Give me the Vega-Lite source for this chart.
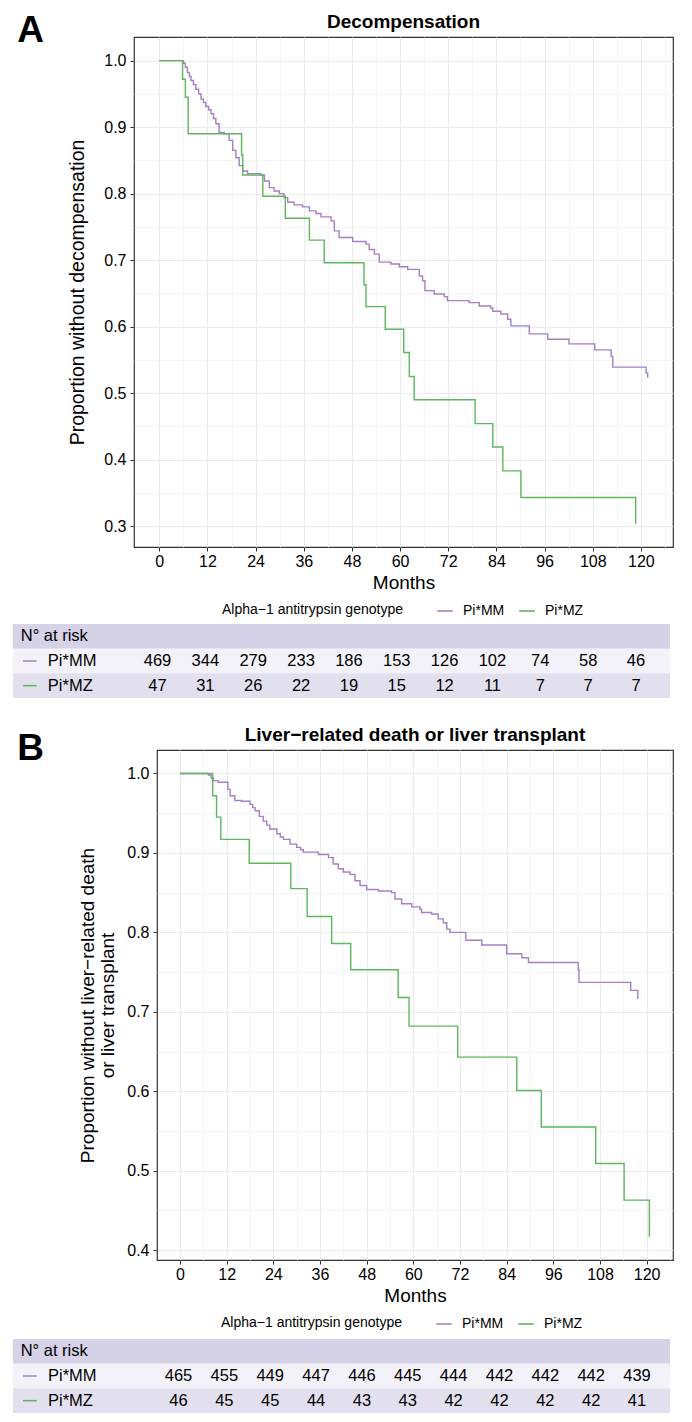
{
  "$schema": "https://vega.github.io/schema/vega-lite/v6.json",
  "padding": {"left": 13, "top": 11, "right": 5, "bottom": 5},
  "background": "white",
  "config": {
    "font": "Liberation Sans",
    "view": {"stroke": null},
    "axis": {"labelColor": "#000000", "titleColor": "#000000", "titleFontWeight": "normal", "domain": false},
    "legend": {"labelColor": "#000000", "titleColor": "#000000", "titleLimit": 400, "labelLimit": 200},
    "title": {"color": "#000000"}
  },
  "datasets": {
    "kmA": [
      {"g": "Pi*MM", "m": 0, "s": 1.0}, {"g": "Pi*MM", "m": 6.0, "s": 0.996}, {"g": "Pi*MM", "m": 6.5, "s": 0.990}, {"g": "Pi*MM", "m": 7.0, "s": 0.982}, {"g": "Pi*MM", "m": 7.5, "s": 0.976}, {"g": "Pi*MM", "m": 7.9, "s": 0.970}, {"g": "Pi*MM", "m": 8.5, "s": 0.964}, {"g": "Pi*MM", "m": 9.1, "s": 0.957}, {"g": "Pi*MM", "m": 9.8, "s": 0.950}, {"g": "Pi*MM", "m": 10.4, "s": 0.942}, {"g": "Pi*MM", "m": 11.0, "s": 0.937}, {"g": "Pi*MM", "m": 11.6, "s": 0.931}, {"g": "Pi*MM", "m": 12.3, "s": 0.926}, {"g": "Pi*MM", "m": 12.9, "s": 0.920}, {"g": "Pi*MM", "m": 13.5, "s": 0.913}, {"g": "Pi*MM", "m": 14.1, "s": 0.905}, {"g": "Pi*MM", "m": 14.9, "s": 0.892}, {"g": "Pi*MM", "m": 16.2, "s": 0.890}, {"g": "Pi*MM", "m": 17.4, "s": 0.880}, {"g": "Pi*MM", "m": 18.3, "s": 0.865}, {"g": "Pi*MM", "m": 19.1, "s": 0.854}, {"g": "Pi*MM", "m": 19.9, "s": 0.842}, {"g": "Pi*MM", "m": 20.8, "s": 0.834}, {"g": "Pi*MM", "m": 22.0, "s": 0.830}, {"g": "Pi*MM", "m": 25.3, "s": 0.828}, {"g": "Pi*MM", "m": 26.2, "s": 0.819}, {"g": "Pi*MM", "m": 27.4, "s": 0.809}, {"g": "Pi*MM", "m": 28.6, "s": 0.804}, {"g": "Pi*MM", "m": 29.9, "s": 0.800}, {"g": "Pi*MM", "m": 31.1, "s": 0.794}, {"g": "Pi*MM", "m": 32.0, "s": 0.787}, {"g": "Pi*MM", "m": 33.6, "s": 0.783}, {"g": "Pi*MM", "m": 35.7, "s": 0.780}, {"g": "Pi*MM", "m": 37.4, "s": 0.774}, {"g": "Pi*MM", "m": 39.0, "s": 0.770}, {"g": "Pi*MM", "m": 40.3, "s": 0.765}, {"g": "Pi*MM", "m": 42.8, "s": 0.759}, {"g": "Pi*MM", "m": 43.6, "s": 0.744}, {"g": "Pi*MM", "m": 44.8, "s": 0.734}, {"g": "Pi*MM", "m": 48.2, "s": 0.728}, {"g": "Pi*MM", "m": 51.5, "s": 0.724}, {"g": "Pi*MM", "m": 52.3, "s": 0.716}, {"g": "Pi*MM", "m": 53.6, "s": 0.709}, {"g": "Pi*MM", "m": 54.8, "s": 0.697}, {"g": "Pi*MM", "m": 57.7, "s": 0.694}, {"g": "Pi*MM", "m": 59.8, "s": 0.690}, {"g": "Pi*MM", "m": 61.9, "s": 0.686}, {"g": "Pi*MM", "m": 64.8, "s": 0.676}, {"g": "Pi*MM", "m": 65.6, "s": 0.669}, {"g": "Pi*MM", "m": 66.2, "s": 0.654}, {"g": "Pi*MM", "m": 68.5, "s": 0.649}, {"g": "Pi*MM", "m": 71.0, "s": 0.645}, {"g": "Pi*MM", "m": 71.8, "s": 0.639}, {"g": "Pi*MM", "m": 77.2, "s": 0.636}, {"g": "Pi*MM", "m": 79.7, "s": 0.631}, {"g": "Pi*MM", "m": 82.6, "s": 0.628}, {"g": "Pi*MM", "m": 83.1, "s": 0.623}, {"g": "Pi*MM", "m": 85.1, "s": 0.619}, {"g": "Pi*MM", "m": 86.8, "s": 0.611}, {"g": "Pi*MM", "m": 87.6, "s": 0.601}, {"g": "Pi*MM", "m": 92.2, "s": 0.589}, {"g": "Pi*MM", "m": 96.8, "s": 0.581}, {"g": "Pi*MM", "m": 102.1, "s": 0.574}, {"g": "Pi*MM", "m": 108.5, "s": 0.565}, {"g": "Pi*MM", "m": 112.6, "s": 0.555}, {"g": "Pi*MM", "m": 113.0, "s": 0.539}, {"g": "Pi*MM", "m": 121.3, "s": 0.530}, {"g": "Pi*MM", "m": 121.7, "s": 0.523},
      {"g": "Pi*MZ", "m": 0, "s": 1.0}, {"g": "Pi*MZ", "m": 5.8, "s": 0.972}, {"g": "Pi*MZ", "m": 6.5, "s": 0.945}, {"g": "Pi*MZ", "m": 7.2, "s": 0.890}, {"g": "Pi*MZ", "m": 20.5, "s": 0.858}, {"g": "Pi*MZ", "m": 20.8, "s": 0.828}, {"g": "Pi*MZ", "m": 25.8, "s": 0.796}, {"g": "Pi*MZ", "m": 31.4, "s": 0.763}, {"g": "Pi*MZ", "m": 37.4, "s": 0.730}, {"g": "Pi*MZ", "m": 41.1, "s": 0.696}, {"g": "Pi*MZ", "m": 51.0, "s": 0.663}, {"g": "Pi*MZ", "m": 51.5, "s": 0.630}, {"g": "Pi*MZ", "m": 56.3, "s": 0.596}, {"g": "Pi*MZ", "m": 60.9, "s": 0.561}, {"g": "Pi*MZ", "m": 62.3, "s": 0.525}, {"g": "Pi*MZ", "m": 63.5, "s": 0.490}, {"g": "Pi*MZ", "m": 78.7, "s": 0.454}, {"g": "Pi*MZ", "m": 83.1, "s": 0.419}, {"g": "Pi*MZ", "m": 85.6, "s": 0.383}, {"g": "Pi*MZ", "m": 90.1, "s": 0.343}, {"g": "Pi*MZ", "m": 118.7, "s": 0.3035}
    ],
    "kmB": [
      {"g": "Pi*MM", "m": 0, "s": 1.0}, {"g": "Pi*MM", "m": 7.3, "s": 0.998}, {"g": "Pi*MM", "m": 8.0, "s": 0.994}, {"g": "Pi*MM", "m": 8.6, "s": 0.991}, {"g": "Pi*MM", "m": 9.8, "s": 0.989}, {"g": "Pi*MM", "m": 12.3, "s": 0.980}, {"g": "Pi*MM", "m": 12.9, "s": 0.972}, {"g": "Pi*MM", "m": 14.1, "s": 0.966}, {"g": "Pi*MM", "m": 15.9, "s": 0.965}, {"g": "Pi*MM", "m": 18.0, "s": 0.961}, {"g": "Pi*MM", "m": 18.7, "s": 0.957}, {"g": "Pi*MM", "m": 19.3, "s": 0.953}, {"g": "Pi*MM", "m": 20.4, "s": 0.946}, {"g": "Pi*MM", "m": 21.4, "s": 0.940}, {"g": "Pi*MM", "m": 22.3, "s": 0.935}, {"g": "Pi*MM", "m": 23.1, "s": 0.930}, {"g": "Pi*MM", "m": 24.9, "s": 0.924}, {"g": "Pi*MM", "m": 25.8, "s": 0.920}, {"g": "Pi*MM", "m": 26.6, "s": 0.917}, {"g": "Pi*MM", "m": 28.3, "s": 0.911}, {"g": "Pi*MM", "m": 30.0, "s": 0.907}, {"g": "Pi*MM", "m": 31.0, "s": 0.904}, {"g": "Pi*MM", "m": 31.7, "s": 0.901}, {"g": "Pi*MM", "m": 35.6, "s": 0.898}, {"g": "Pi*MM", "m": 38.2, "s": 0.894}, {"g": "Pi*MM", "m": 39.4, "s": 0.886}, {"g": "Pi*MM", "m": 40.7, "s": 0.880}, {"g": "Pi*MM", "m": 42.0, "s": 0.876}, {"g": "Pi*MM", "m": 43.7, "s": 0.873}, {"g": "Pi*MM", "m": 45.0, "s": 0.865}, {"g": "Pi*MM", "m": 46.3, "s": 0.859}, {"g": "Pi*MM", "m": 48.0, "s": 0.854}, {"g": "Pi*MM", "m": 51.0, "s": 0.852}, {"g": "Pi*MM", "m": 54.4, "s": 0.850}, {"g": "Pi*MM", "m": 55.3, "s": 0.842}, {"g": "Pi*MM", "m": 57.0, "s": 0.836}, {"g": "Pi*MM", "m": 59.6, "s": 0.832}, {"g": "Pi*MM", "m": 61.7, "s": 0.829}, {"g": "Pi*MM", "m": 62.1, "s": 0.825}, {"g": "Pi*MM", "m": 64.7, "s": 0.823}, {"g": "Pi*MM", "m": 66.4, "s": 0.817}, {"g": "Pi*MM", "m": 67.7, "s": 0.812}, {"g": "Pi*MM", "m": 68.6, "s": 0.804}, {"g": "Pi*MM", "m": 69.4, "s": 0.800}, {"g": "Pi*MM", "m": 73.5, "s": 0.790}, {"g": "Pi*MM", "m": 77.6, "s": 0.784}, {"g": "Pi*MM", "m": 84.0, "s": 0.773}, {"g": "Pi*MM", "m": 87.9, "s": 0.768}, {"g": "Pi*MM", "m": 89.6, "s": 0.762}, {"g": "Pi*MM", "m": 102.4, "s": 0.753}, {"g": "Pi*MM", "m": 102.6, "s": 0.737}, {"g": "Pi*MM", "m": 115.9, "s": 0.727}, {"g": "Pi*MM", "m": 117.7, "s": 0.716},
      {"g": "Pi*MZ", "m": 0, "s": 1.0}, {"g": "Pi*MZ", "m": 8.4, "s": 0.972}, {"g": "Pi*MZ", "m": 9.4, "s": 0.945}, {"g": "Pi*MZ", "m": 10.5, "s": 0.917}, {"g": "Pi*MZ", "m": 17.8, "s": 0.887}, {"g": "Pi*MZ", "m": 28.5, "s": 0.855}, {"g": "Pi*MZ", "m": 32.7, "s": 0.820}, {"g": "Pi*MZ", "m": 39.0, "s": 0.786}, {"g": "Pi*MZ", "m": 43.9, "s": 0.753}, {"g": "Pi*MZ", "m": 56.1, "s": 0.718}, {"g": "Pi*MZ", "m": 58.9, "s": 0.682}, {"g": "Pi*MZ", "m": 71.4, "s": 0.643}, {"g": "Pi*MZ", "m": 86.6, "s": 0.601}, {"g": "Pi*MZ", "m": 92.9, "s": 0.555}, {"g": "Pi*MZ", "m": 106.9, "s": 0.509}, {"g": "Pi*MZ", "m": 114.2, "s": 0.463}, {"g": "Pi*MZ", "m": 120.7, "s": 0.417}
    ],
    "rows": [
      {"row": "N° at risk", "label": "N° at risk"},
      {"row": "Pi*MM", "label": "Pi*MM"},
      {"row": "Pi*MZ", "label": "Pi*MZ"}
    ],
    "riskA": [
      {"row": "Pi*MM", "m": 0, "n": 469}, {"row": "Pi*MM", "m": 12, "n": 344}, {"row": "Pi*MM", "m": 24, "n": 279}, {"row": "Pi*MM", "m": 36, "n": 233}, {"row": "Pi*MM", "m": 48, "n": 186}, {"row": "Pi*MM", "m": 60, "n": 153}, {"row": "Pi*MM", "m": 72, "n": 126}, {"row": "Pi*MM", "m": 84, "n": 102}, {"row": "Pi*MM", "m": 96, "n": 74}, {"row": "Pi*MM", "m": 108, "n": 58}, {"row": "Pi*MM", "m": 120, "n": 46},
      {"row": "Pi*MZ", "m": 0, "n": 47}, {"row": "Pi*MZ", "m": 12, "n": 31}, {"row": "Pi*MZ", "m": 24, "n": 26}, {"row": "Pi*MZ", "m": 36, "n": 22}, {"row": "Pi*MZ", "m": 48, "n": 19}, {"row": "Pi*MZ", "m": 60, "n": 15}, {"row": "Pi*MZ", "m": 72, "n": 12}, {"row": "Pi*MZ", "m": 84, "n": 11}, {"row": "Pi*MZ", "m": 96, "n": 7}, {"row": "Pi*MZ", "m": 108, "n": 7}, {"row": "Pi*MZ", "m": 120, "n": 7}
    ],
    "riskB": [
      {"row": "Pi*MM", "m": 0, "n": 465}, {"row": "Pi*MM", "m": 12, "n": 455}, {"row": "Pi*MM", "m": 24, "n": 449}, {"row": "Pi*MM", "m": 36, "n": 447}, {"row": "Pi*MM", "m": 48, "n": 446}, {"row": "Pi*MM", "m": 60, "n": 445}, {"row": "Pi*MM", "m": 72, "n": 444}, {"row": "Pi*MM", "m": 84, "n": 442}, {"row": "Pi*MM", "m": 96, "n": 442}, {"row": "Pi*MM", "m": 108, "n": 442}, {"row": "Pi*MM", "m": 120, "n": 439},
      {"row": "Pi*MZ", "m": 0, "n": 46}, {"row": "Pi*MZ", "m": 12, "n": 45}, {"row": "Pi*MZ", "m": 24, "n": 45}, {"row": "Pi*MZ", "m": 36, "n": 44}, {"row": "Pi*MZ", "m": 48, "n": 43}, {"row": "Pi*MZ", "m": 60, "n": 43}, {"row": "Pi*MZ", "m": 72, "n": 42}, {"row": "Pi*MZ", "m": 84, "n": 42}, {"row": "Pi*MZ", "m": 96, "n": 42}, {"row": "Pi*MZ", "m": 108, "n": 42}, {"row": "Pi*MZ", "m": 120, "n": 41}
    ]
  },
  "resolve": {"scale": {"color": "independent", "fill": "independent", "stroke": "independent"}, "legend": {"color": "independent"}},
  "spacing": 27,
  "vconcat": [
    {
      "spacing": 5,
      "resolve": {"scale": {"color": "independent", "fill": "independent", "stroke": "independent"}, "legend": {"color": "independent"}},
      "vconcat": [
        {
          "spacing": 19,
          "resolve": {"scale": {"color": "independent"}, "legend": {"color": "independent"}},
          "hconcat": [
            {
              "width": 35, "height": 9,
              "data": {"values": [{"panel": "A"}]},
              "mark": {"type": "text", "fontSize": 37, "fontWeight": "bold", "baseline": "alphabetic", "align": "center", "color": "#000000"},
              "encoding": {"text": {"field": "panel"}}
            },
            {
              "width": 539, "height": 510,
              "title": {"text": "Decompensation", "fontSize": 19, "fontWeight": "bold", "anchor": "middle", "frame": "group", "baseline": "alphabetic", "offset": -10},
              "view": {"stroke": "#333333", "strokeWidth": 1.2},
              "data": {"name": "kmA"},
              "encoding": {
                "x": {"field": "m", "type": "quantitative", "scale": {"domain": [-6.3, 128.0], "nice": false, "zero": false},
                  "axis": {"title": "Months", "values": [0,6,12,18,24,30,36,42,48,54,60,66,72,78,84,90,96,102,108,114,120,126],
                    "labelExpr": "datum.value % 12 === 0 ? datum.label : ''", "labelOverlap": false, "labelFlush": false,
                    "labelFontSize": 16, "labelPadding": 2, "titleFontSize": 19, "titlePadding": 4,
                    "tickSize": 4, "tickColor": "#333333", "tickOpacity": {"condition": {"test": "datum.value % 12 === 0", "value": 1}, "value": 0},
                    "grid": true, "gridColor": {"condition": {"test": "datum.value % 12 === 0", "value": "#EBEBEB"}, "value": "#F2F2F2"},
                    "gridWidth": {"condition": {"test": "datum.value % 12 === 0", "value": 1.2}, "value": 0.8}}},
                "y": {"field": "s", "type": "quantitative", "scale": {"domain": [0.2685, 1.0355], "nice": false, "zero": false},
                  "axis": {"title": "Proportion without decompensation", "values": [0.3,0.35,0.4,0.45,0.5,0.55,0.6,0.65,0.7,0.75,0.8,0.85,0.9,0.95,1.0],
                    "labelExpr": "abs(datum.value*10 - round(datum.value*10)) < 0.001 ? format(datum.value, '.1f') : ''", "labelOverlap": false, "labelFlush": false,
                    "labelFontSize": 16, "labelPadding": 4, "titleFontSize": 19.5, "titlePadding": 16,
                    "tickSize": 4, "tickColor": "#333333", "tickOpacity": {"condition": {"test": "abs(datum.value*10 - round(datum.value*10)) < 0.001", "value": 1}, "value": 0},
                    "grid": true, "gridColor": {"condition": {"test": "abs(datum.value*10 - round(datum.value*10)) < 0.001", "value": "#EBEBEB"}, "value": "#F2F2F2"},
                    "gridWidth": {"condition": {"test": "abs(datum.value*10 - round(datum.value*10)) < 0.001", "value": 1.2}, "value": 0.8}}}
              },
              "layer": [
                {
                  "transform": [{"filter": "datum.g === 'Pi*MM'"}],
                  "mark": {"type": "line", "interpolate": "step-after", "strokeWidth": 1.4},
                  "encoding": {"color": {"field": "g", "type": "nominal", "scale": {"domain": ["Pi*MM", "Pi*MZ"], "range": ["#A67FC4", "#5DB75D"]},
                    "legend": {"title": "Alpha−1 antitrypsin genotype", "orient": "none", "legendX": 88, "legendY": 565, "direction": "horizontal", "titleOrient": "left",
                      "titleFontSize": 14, "titleFontWeight": "normal", "labelFontSize": 14, "symbolType": "stroke", "symbolSize": 240, "symbolStrokeWidth": 1.6,
                      "titlePadding": 33, "columnPadding": 11, "labelOffset": 9}}}
                },
                {
                  "transform": [{"filter": "datum.g === 'Pi*MZ'"}],
                  "mark": {"type": "line", "interpolate": "step-after", "strokeWidth": 1.4},
                  "encoding": {"color": {"field": "g", "type": "nominal", "scale": {"domain": ["Pi*MM", "Pi*MZ"], "range": ["#A67FC4", "#5DB75D"]},
                    "legend": {"title": "Alpha−1 antitrypsin genotype", "orient": "none", "legendX": 88, "legendY": 565, "direction": "horizontal", "titleOrient": "left",
                      "titleFontSize": 14, "titleFontWeight": "normal", "labelFontSize": 14, "symbolType": "stroke", "symbolSize": 240, "symbolStrokeWidth": 1.6,
                      "titlePadding": 33, "columnPadding": 11, "labelOffset": 9}}}
                },
                {
                  "data": {"values": [{"t": "p"}]},
                  "mark": {"type": "text", "fontStyle": "italic", "fontSize": 13.5, "align": "left", "baseline": "middle", "color": "#000000"},
                  "encoding": {"x": {"datum": 102.0}, "y": {"datum": 0.97}, "text": {"field": "t"}}
                },
                {
                  "data": {"values": [{"t": "= 0.0052"}]},
                  "mark": {"type": "text", "fontSize": 13.5, "align": "left", "baseline": "middle", "color": "#000000"},
                  "encoding": {"x": {"datum": 105.0}, "y": {"datum": 0.97}, "text": {"field": "t"}}
                }
              ]
            }
          ]
        },
        {
          "width": 657, "height": 74,
          "layer": [
            {
              "data": {"name": "rows"},
              "mark": {"type": "rect"},
              "encoding": {
                "y": {"field": "row", "type": "nominal", "scale": {"domain": ["N° at risk", "Pi*MM", "Pi*MZ"], "paddingInner": 0, "paddingOuter": 0}, "axis": null},
                "fill": {"field": "row", "type": "nominal", "scale": {"domain": ["N° at risk", "Pi*MM", "Pi*MZ"], "range": ["#D6D3E8", "#F3F2F8", "#E2E0EE"]}, "legend": null}
              }
            },
            {
              "data": {"name": "rows"},
              "transform": [{"filter": "datum.row === 'N° at risk'"}],
              "mark": {"type": "text", "align": "left", "baseline": "middle", "fontSize": 16.5, "color": "#000000"},
              "encoding": {"x": {"datum": -34.3, "axis": null}, "y": {"field": "row", "type": "nominal", "axis": null}, "text": {"field": "label"}}
            },
            {
              "data": {"name": "rows"},
              "transform": [{"filter": "datum.row !== 'N° at risk'"}],
              "mark": {"type": "rule", "strokeWidth": 1.5},
              "encoding": {"x": {"datum": -33.7, "axis": null}, "x2": {"datum": -30.3}, "y": {"field": "row", "type": "nominal", "axis": null},
                "stroke": {"field": "row", "type": "nominal", "scale": {"domain": ["Pi*MM", "Pi*MZ"], "range": ["#A67FC4", "#5DB75D"]}, "legend": null}}
            },
            {
              "data": {"name": "rows"},
              "transform": [{"filter": "datum.row !== 'N° at risk'"}],
              "mark": {"type": "text", "align": "left", "baseline": "middle", "fontSize": 16.5, "color": "#000000"},
              "encoding": {"x": {"datum": -27.5, "axis": null}, "y": {"field": "row", "type": "nominal", "axis": null}, "text": {"field": "label"}}
            },
            {
              "data": {"name": "riskA"},
              "mark": {"type": "text", "align": "center", "baseline": "middle", "fontSize": 16.5, "color": "#000000"},
              "encoding": {"x": {"field": "m", "type": "quantitative", "scale": {"domain": [-36.24, 128.53], "nice": false, "zero": false}, "axis": null},
                "y": {"field": "row", "type": "nominal", "axis": null}, "text": {"field": "n"}}
            }
          ]
        }
      ]
    },
    {
      "spacing": 7,
      "resolve": {"scale": {"color": "independent", "fill": "independent", "stroke": "independent"}, "legend": {"color": "independent"}},
      "vconcat": [
        {
          "spacing": 30,
          "resolve": {"scale": {"color": "independent"}, "legend": {"color": "independent"}},
          "hconcat": [
            {
              "width": 35, "height": 20,
              "data": {"values": [{"panel": "B"}]},
              "mark": {"type": "text", "fontSize": 37, "fontWeight": "bold", "baseline": "alphabetic", "align": "center", "color": "#000000"},
              "encoding": {"text": {"field": "panel"}}
            },
            {
              "width": 516, "height": 510,
              "title": {"text": "Liver−related death or liver transplant", "fontSize": 19, "fontWeight": "bold", "anchor": "middle", "frame": "group", "baseline": "alphabetic", "offset": -10},
              "view": {"stroke": "#333333", "strokeWidth": 1.2},
              "data": {"name": "kmB"},
              "encoding": {
                "x": {"field": "m", "type": "quantitative", "scale": {"domain": [-5.91, 126.77], "nice": false, "zero": false},
                  "axis": {"title": "Months", "values": [0,6,12,18,24,30,36,42,48,54,60,66,72,78,84,90,96,102,108,114,120,126],
                    "labelExpr": "datum.value % 12 === 0 ? datum.label : ''", "labelOverlap": false, "labelFlush": false,
                    "labelFontSize": 16, "labelPadding": 2, "titleFontSize": 19, "titlePadding": 4,
                    "tickSize": 4, "tickColor": "#333333", "tickOpacity": {"condition": {"test": "datum.value % 12 === 0", "value": 1}, "value": 0},
                    "grid": true, "gridColor": {"condition": {"test": "datum.value % 12 === 0", "value": "#EBEBEB"}, "value": "#F2F2F2"},
                    "gridWidth": {"condition": {"test": "datum.value % 12 === 0", "value": 1.2}, "value": 0.8}}},
                "y": {"field": "s", "type": "quantitative", "scale": {"domain": [0.3876, 1.0295], "nice": false, "zero": false},
                  "axis": {"title": ["Proportion without liver−related death", "or liver transplant"], "titleLineHeight": 20, "values": [0.4,0.45,0.5,0.55,0.6,0.65,0.7,0.75,0.8,0.85,0.9,0.95,1.0],
                    "labelExpr": "abs(datum.value*10 - round(datum.value*10)) < 0.001 ? format(datum.value, '.1f') : ''", "labelOverlap": false, "labelFlush": false,
                    "labelFontSize": 16, "labelPadding": 4, "titleFontSize": 19, "titlePadding": 9,
                    "tickSize": 4, "tickColor": "#333333", "tickOpacity": {"condition": {"test": "abs(datum.value*10 - round(datum.value*10)) < 0.001", "value": 1}, "value": 0},
                    "grid": true, "gridColor": {"condition": {"test": "abs(datum.value*10 - round(datum.value*10)) < 0.001", "value": "#EBEBEB"}, "value": "#F2F2F2"},
                    "gridWidth": {"condition": {"test": "abs(datum.value*10 - round(datum.value*10)) < 0.001", "value": 1.2}, "value": 0.8}}}
              },
              "layer": [
                {
                  "transform": [{"filter": "datum.g === 'Pi*MM'"}],
                  "mark": {"type": "line", "interpolate": "step-after", "strokeWidth": 1.4},
                  "encoding": {"color": {"field": "g", "type": "nominal", "scale": {"domain": ["Pi*MM", "Pi*MZ"], "range": ["#A67FC4", "#5DB75D"]},
                    "legend": {"title": "Alpha−1 antitrypsin genotype", "orient": "none", "legendX": 64, "legendY": 565, "direction": "horizontal", "titleOrient": "left",
                      "titleFontSize": 14, "titleFontWeight": "normal", "labelFontSize": 14, "symbolType": "stroke", "symbolSize": 240, "symbolStrokeWidth": 1.6,
                      "titlePadding": 33, "columnPadding": 11, "labelOffset": 9}}}
                },
                {
                  "transform": [{"filter": "datum.g === 'Pi*MZ'"}],
                  "mark": {"type": "line", "interpolate": "step-after", "strokeWidth": 1.4},
                  "encoding": {"color": {"field": "g", "type": "nominal", "scale": {"domain": ["Pi*MM", "Pi*MZ"], "range": ["#A67FC4", "#5DB75D"]},
                    "legend": {"title": "Alpha−1 antitrypsin genotype", "orient": "none", "legendX": 64, "legendY": 565, "direction": "horizontal", "titleOrient": "left",
                      "titleFontSize": 14, "titleFontWeight": "normal", "labelFontSize": 14, "symbolType": "stroke", "symbolSize": 240, "symbolStrokeWidth": 1.6,
                      "titlePadding": 33, "columnPadding": 11, "labelOffset": 9}}}
                },
                {
                  "data": {"values": [{"t": "p"}]},
                  "mark": {"type": "text", "fontStyle": "italic", "fontSize": 13.5, "align": "left", "baseline": "middle", "color": "#000000"},
                  "encoding": {"x": {"datum": 99.7}, "y": {"datum": 0.9685}, "text": {"field": "t"}}
                },
                {
                  "data": {"values": [{"t": "= 0.0030"}]},
                  "mark": {"type": "text", "fontSize": 13.5, "align": "left", "baseline": "middle", "color": "#000000"},
                  "encoding": {"x": {"datum": 102.85}, "y": {"datum": 0.9685}, "text": {"field": "t"}}
                }
              ]
            }
          ]
        },
        {
          "width": 657, "height": 74,
          "layer": [
            {
              "data": {"name": "rows"},
              "mark": {"type": "rect"},
              "encoding": {
                "y": {"field": "row", "type": "nominal", "scale": {"domain": ["N° at risk", "Pi*MM", "Pi*MZ"], "paddingInner": 0, "paddingOuter": 0}, "axis": null},
                "fill": {"field": "row", "type": "nominal", "scale": {"domain": ["N° at risk", "Pi*MM", "Pi*MZ"], "range": ["#D6D3E8", "#F3F2F8", "#E2E0EE"]}, "legend": null}
              }
            },
            {
              "data": {"name": "rows"},
              "transform": [{"filter": "datum.row === 'N° at risk'"}],
              "mark": {"type": "text", "align": "left", "baseline": "middle", "fontSize": 16.5, "color": "#000000"},
              "encoding": {"x": {"datum": -41.3, "axis": null}, "y": {"field": "row", "type": "nominal", "axis": null}, "text": {"field": "label"}}
            },
            {
              "data": {"name": "rows"},
              "transform": [{"filter": "datum.row !== 'N° at risk'"}],
              "mark": {"type": "rule", "strokeWidth": 1.5},
              "encoding": {"x": {"datum": -40.7, "axis": null}, "x2": {"datum": -37.1}, "y": {"field": "row", "type": "nominal", "axis": null},
                "stroke": {"field": "row", "type": "nominal", "scale": {"domain": ["Pi*MM", "Pi*MZ"], "range": ["#A67FC4", "#5DB75D"]}, "legend": null}}
            },
            {
              "data": {"name": "rows"},
              "transform": [{"filter": "datum.row !== 'N° at risk'"}],
              "mark": {"type": "text", "align": "left", "baseline": "middle", "fontSize": 16.5, "color": "#000000"},
              "encoding": {"x": {"datum": -34.15, "axis": null}, "y": {"field": "row", "type": "nominal", "axis": null}, "text": {"field": "label"}}
            },
            {
              "data": {"name": "riskB"},
              "mark": {"type": "text", "align": "center", "baseline": "middle", "fontSize": 16.5, "color": "#000000"},
              "encoding": {"x": {"field": "m", "type": "quantitative", "scale": {"domain": [-43.31, 128.63], "nice": false, "zero": false}, "axis": null},
                "y": {"field": "row", "type": "nominal", "axis": null}, "text": {"field": "n"}}
            }
          ]
        }
      ]
    }
  ]
}
